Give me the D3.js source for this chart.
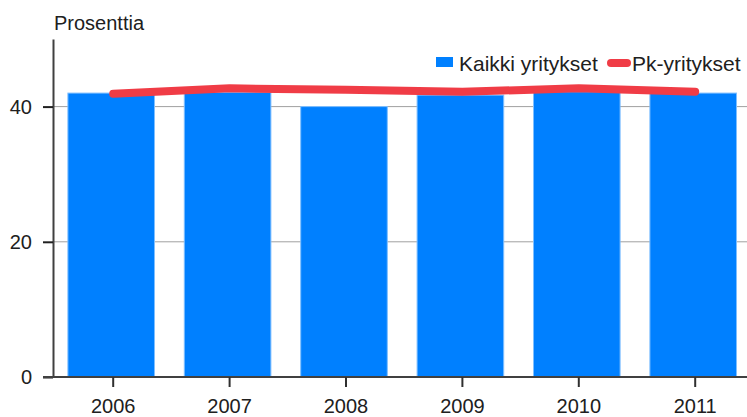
<!DOCTYPE html>
<html>
<head>
<meta charset="utf-8">
<script src="https://cdn.jsdelivr.net/npm/d3@7"></script>
<style>
  html, body { margin: 0; padding: 0; background: #fff; }
  svg { display: block; font-family: "Liberation Sans", Arial, sans-serif; }
</style>
</head>
<body>
<svg id="chart" width="747" height="417"></svg>
<script>
const years = ["2006", "2007", "2008", "2009", "2010", "2011"];
const kaikki = [42.0, 42.1, 40.0, 41.7, 42.2, 42.0];
const pk = [41.9, 42.7, 42.5, 42.2, 42.7, 42.2];
const yTicks = [0, 20, 40];
const seriesNames = ["Kaikki yritykset", "Pk-yritykset"];
const yLabel = "Prosenttia";

const svg = d3.select("#chart");
const x = d3.scaleBand().domain(years).range([53, 751.4]).paddingInner(0.256).paddingOuter(0.128);
const y = d3.scaleLinear().domain([0, 50]).range([377, 39]);
const off = 2; // tick/point offset from bar centre

// gridlines
svg.append("g").selectAll("line").data(yTicks.filter(d => d > 0)).join("line")
  .attr("x1", 53).attr("x2", 747)
  .attr("y1", d => y(d)).attr("y2", d => y(d))
  .attr("stroke", "#a0a0a0").attr("stroke-width", 1);

// bars
svg.append("g").selectAll("rect").data(years).join("rect")
  .attr("x", d => x(d))
  .attr("y", (d, i) => y(kaikki[i]))
  .attr("width", x.bandwidth())
  .attr("height", (d, i) => y(0) - y(kaikki[i]))
  .attr("fill", "#0080ff")
  .attr("stroke", "#7fbfff").attr("stroke-width", 1);

// line
const line = d3.line().x((d, i) => x(years[i]) + x.bandwidth() / 2 + off).y(d => y(d));
svg.append("path").datum(pk)
  .attr("d", line)
  .attr("fill", "none").attr("stroke", "#f03c46")
  .attr("stroke-width", 8).attr("stroke-linecap", "round").attr("stroke-linejoin", "round");

// y axis
const yAxis = svg.append("g").attr("transform", "translate(53,0)")
  .call(d3.axisLeft(y).tickValues(yTicks).tickSize(10).tickPadding(11).tickSizeOuter(0));
yAxis.select(".domain").attr("stroke", "#404040").attr("stroke-width", 2);
yAxis.selectAll(".tick line").attr("stroke", "#202020").attr("stroke-width", 2);
yAxis.selectAll(".tick text").attr("font-size", "20px").attr("fill", "#202020")
  .attr("font-family", "Liberation Sans, Arial, sans-serif");

// x axis
const xAxis = svg.append("g").attr("transform", `translate(${off},377)`)
  .call(d3.axisBottom(x).tickSize(10).tickPadding(12).tickSizeOuter(0));
xAxis.select(".domain").attr("d", `M${43 - off},0H747`).attr("stroke", "#404040").attr("stroke-width", 2);
xAxis.selectAll(".tick line").attr("stroke", "#303030").attr("stroke-width", 2);
xAxis.selectAll(".tick text").attr("font-size", "20px").attr("fill", "#202020")
  .attr("font-family", "Liberation Sans, Arial, sans-serif");

// y label
svg.append("text").attr("x", 54).attr("y", 30).attr("font-size", "20px").attr("fill", "#202020")
  .text(yLabel);

// legend
const lg = svg.append("g");
lg.append("rect").attr("x", 436).attr("y", 57).attr("width", 17).attr("height", 10).attr("fill", "#0080ff");
lg.append("text").attr("x", 459).attr("y", 71).attr("font-size", "21px").attr("fill", "#202020").text(seriesNames[0]);
lg.append("line").attr("x1", 611).attr("x2", 627).attr("y1", 63).attr("y2", 63)
  .attr("stroke", "#f03c46").attr("stroke-width", 8).attr("stroke-linecap", "round");
lg.append("text").attr("x", 632).attr("y", 71).attr("font-size", "21px").attr("fill", "#202020").text(seriesNames[1]);
</script>
</body>
</html>
